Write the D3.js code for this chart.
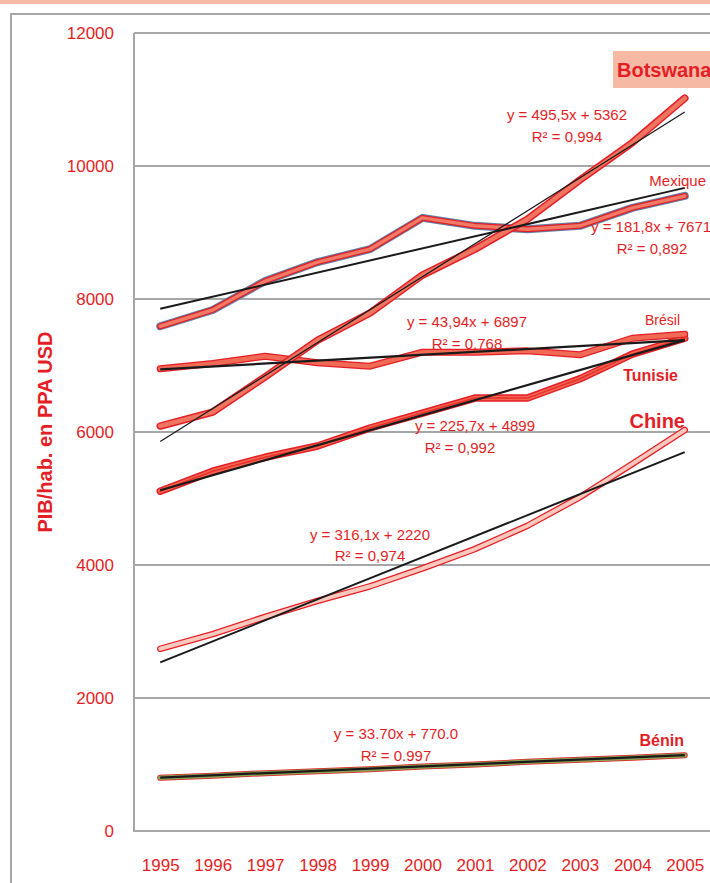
<!DOCTYPE html>
<html>
<head>
<meta charset="utf-8">
<script src="https://cdn.jsdelivr.net/npm/d3@7"></script>
<style>
  html, body { margin: 0; padding: 0; background: #fff; }
  svg { display: block; }
  text { font-family: "Liberation Sans", Arial, sans-serif; fill: #e41e26; }
</style>
</head>
<body>
<svg id="chart" width="710" height="883"></svg>
<script>
// Years on the category axis
const years = [1995, 1996, 1997, 1998, 1999, 2000, 2001, 2002, 2003, 2004, 2005];
const yTicks = [0, 2000, 4000, 6000, 8000, 10000, 12000];

// GDP per capita, PPP USD
const botswana = [6090, 6300, 6830, 7380, 7790, 8360, 8750, 9200, 9790, 10350, 11020];
const mexique  = [7590, 7835, 8270, 8555, 8750, 9220, 9100, 9050, 9100, 9370, 9550];
const bresil   = [6950, 7030, 7140, 7040, 6990, 7200, 7200, 7220, 7160, 7410, 7470];
const tunisie  = [5110, 5410, 5620, 5790, 6060, 6285, 6510, 6510, 6800, 7170, 7410];
const chine    = [2740, 2960, 3220, 3460, 3680, 3950, 4240, 4590, 5020, 5520, 6030];
const benin    = [800, 830, 870, 900, 930, 970, 1000, 1040, 1070, 1100, 1140];

// Linear trend coefficients (slope, intercept), x = 1..11
const trendBotswana = [495.5, 5362];
const trendMexique  = [181.8, 7671];
const trendBresil   = [43.94, 6897];
const trendTunisie  = [225.7, 4899];
const trendChine    = [316.1, 2220];
const trendBenin    = [33.70, 770.0];

const svg = d3.select("#chart");
const red = "#e41e26";
const grid = "#a6a6a6";

const plot = { left: 134, right: 711, top: 33, bottom: 831 };

const x = d3.scalePoint().domain(years).range([plot.left, plot.right]).padding(0.5);
const y = d3.scaleLinear().domain([0, 12000]).range([plot.bottom, plot.top]);

// top band
svg.append("rect").attr("x", 0).attr("y", 0).attr("width", 710).attr("height", 4).attr("fill", "#f6b9a4");

// outer chart frame
svg.append("path").attr("d", "M11,883V14H712")
  .attr("fill", "none").attr("stroke", grid).attr("stroke-width", 2);

// horizontal gridlines
svg.append("g").selectAll("line").data(yTicks.filter(d => d > 0)).join("line")
  .attr("x1", plot.left).attr("x2", plot.right)
  .attr("y1", d => y(d)).attr("y2", d => y(d))
  .attr("stroke", grid).attr("stroke-width", 2);

// plot frame (left + bottom)
svg.append("path").attr("d", `M${plot.left},${plot.top}V${plot.bottom}H${plot.right}`)
  .attr("fill", "none").attr("stroke", grid).attr("stroke-width", 2);

// axes
const yAxis = svg.append("g").attr("transform", `translate(${plot.left},0)`)
  .call(d3.axisLeft(y).tickValues(yTicks).tickSize(0).tickPadding(20).tickFormat(d3.format("d")));
yAxis.select(".domain").remove();
yAxis.selectAll("text").style("font-size", "17px").attr("fill", red);

const xAxis = svg.append("g").attr("transform", `translate(0,${plot.bottom})`)
  .call(d3.axisBottom(x).tickSize(0).tickPadding(28).tickFormat(d3.format("d")));
xAxis.select(".domain").remove();
xAxis.selectAll("text").style("font-size", "17px").attr("fill", red);

// y-axis title
svg.append("text")
  .attr("transform", "translate(52,432) rotate(-90)")
  .attr("text-anchor", "middle")
  .style("font-size", "20px").style("font-weight", "bold")
  .text("PIB/hab. en PPA USD");

const line = d3.line().x((d, i) => x(years[i])).y(d => y(d));

function series(values, layers) {
  const g = svg.append("g");
  layers.forEach(([color, w]) => {
    g.append("path").datum(values).attr("d", line)
      .attr("fill", "none").attr("stroke", color).attr("stroke-width", w)
      .attr("stroke-linejoin", "round").attr("stroke-linecap", "round");
  });
}

function trend(coef, w) {
  const pts = years.map((yr, i) => coef[0] * (i + 1) + coef[1]);
  svg.append("path").datum([pts[0], pts[pts.length - 1]])
    .attr("d", d3.line().x((d, i) => x(years[i === 0 ? 0 : years.length - 1])).y(d => y(d)))
    .attr("fill", "none").attr("stroke", "#1a1a1a").attr("stroke-width", w);
}

series(benin,    [[red, 6], ["#8aa052", 4.5]]);
series(chine,    [[red, 6.5], ["#fac8bc", 4]]);
series(tunisie,  [[red, 7.5], ["#f26650", 4.5], ["#e8302c", 1.5]]);
series(bresil,   [[red, 7], ["#f06a55", 4.5]]);
series(mexique,  [["#5f82aa", 8], [red, 6], ["#f07a65", 3.5]]);
series(botswana, [[red, 7.5], ["#f07560", 4.5]]);

trend(trendBenin, 2.2);
trend(trendChine, 2);
trend(trendTunisie, 2.2);
trend(trendBresil, 2.2);
trend(trendMexique, 2);
trend(trendBotswana, 1.3);

// labels
function label(txt, cx, cy, size, bold, anchor) {
  return svg.append("text").attr("x", cx).attr("y", cy)
    .attr("text-anchor", anchor || "middle").attr("dy", "0.35em")
    .style("font-size", size + "px").style("font-weight", bold ? "bold" : "normal")
    .text(txt);
}

// Botswana boxed label
svg.append("rect").attr("x", 613).attr("y", 51).attr("width", 110).attr("height", 37).attr("fill", "#f6b9a4");
label("Botswana", 617, 70, 20, true, "start");

label("y = 495,5x + 5362", 567, 115, 15);
label("R² = 0,994", 567, 137, 15);

label("Mexique", 706, 181, 15, false, "end");
label("y = 181,8x + 7671", 591, 227, 15, false, "start");
label("R² = 0,892", 652, 249, 15);

label("Brésil", 680, 320, 14, false, "end");
label("y = 43,94x + 6897", 467, 322, 15);
label("R² = 0,768", 467, 344, 15);

label("Tunisie", 678, 375, 16, true, "end");

label("Chine", 685, 421, 20, true, "end");
label("y = 225,7x + 4899", 475, 426, 15);
label("R² = 0,992", 460, 448, 15);

label("y = 316,1x + 2220", 370, 535, 15);
label("R² = 0,974", 370, 556, 15);

label("y = 33.70x + 770.0", 396, 734, 15);
label("R² = 0.997", 396, 756, 15);
label("Bénin", 684, 740, 16, true, "end");
</script>
</body>
</html>
